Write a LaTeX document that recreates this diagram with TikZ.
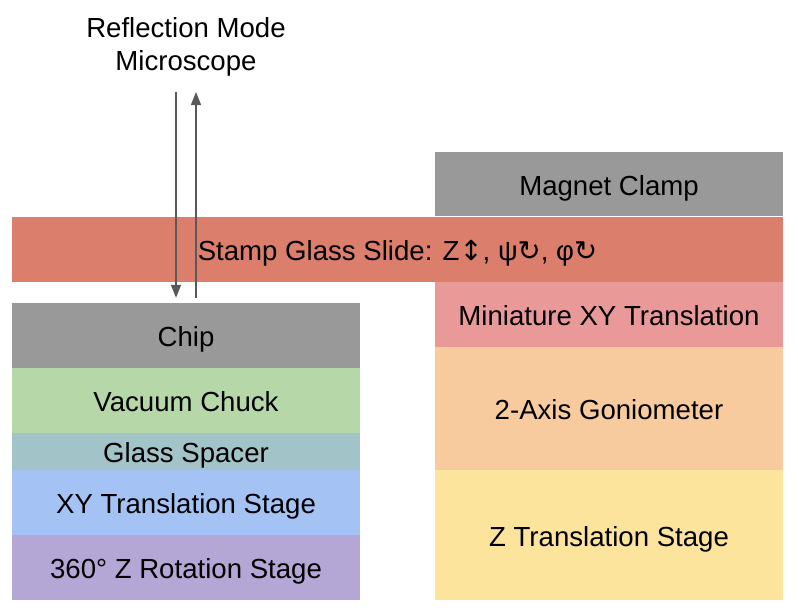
\documentclass[tikz,border=0pt]{standalone}
\usepackage{fontspec}
\setmainfont{Liberation Sans}
\newfontfamily\symfont{DejaVu Sans}
\usetikzlibrary{arrows.meta}

\definecolor{clampGray}{HTML}{999999}
\definecolor{stampRed}{HTML}{DB7E6B}
\definecolor{chuckGreen}{HTML}{B6D7A8}
\definecolor{spacerTeal}{HTML}{A2C4C9}
\definecolor{xyBlue}{HTML}{A4C2F4}
\definecolor{rotPurple}{HTML}{B4A7D6}
\definecolor{miniPink}{HTML}{EA9999}
\definecolor{gonioOrange}{HTML}{F8CB9F}
\definecolor{zYellow}{HTML}{FCE49C}
\definecolor{rayGray}{HTML}{595959}

\begin{document}
\begin{tikzpicture}[x=1pt, y=-1pt, font=\fontsize{27.6}{33}\selectfont]
  % Define styles
  \tikzstyle{layer} = [rectangle, inner sep=0pt, minimum width=348pt, text centered, text height=22pt, text depth=0pt]
  \tikzstyle{ray} = [draw=rayGray, line width=1.3pt, -{Triangle[length=13pt,width=10pt]}]

  \useasboundingbox (0,0) rectangle (798,614);

  % Microscope label
  \node[align=center] (micro) at (186,47) {Reflection Mode\\Microscope};
  \coordinate (mictop) at (186,92);

  % Chip side stack
  \node[layer, fill=clampGray, minimum height=65pt] (chip) at (186,335.5) {Chip};
  \node[layer, fill=chuckGreen, minimum height=65pt] (chuck) at (186,400.5) {Vacuum Chuck};
  \node[layer, fill=spacerTeal, minimum height=37pt] (spacer) at (186,451.5) {Glass Spacer};
  \node[layer, fill=xyBlue, minimum height=65pt] (xystage) at (186,502.5) {XY Translation Stage};
  \node[layer, fill=rotPurple, minimum height=65pt] (rotstage) at (186,567.5) {360° Z Rotation Stage};

  % Stamp side stack
  \node[layer, fill=clampGray, minimum height=64pt] (clamp) at (609,184) {Magnet Clamp};
  \node[layer, fill=miniPink, minimum height=65pt] (minixy) at (609,314.5) {Miniature XY Translation};
  \node[layer, fill=gonioOrange, minimum height=123pt] (gonio) at (609,408.5) {2-Axis Goniometer};
  \node[layer, fill=zYellow, minimum height=130pt] (zstage) at (609,535) {Z Translation Stage};

  % Stamp glass slide
  \node[layer, fill=stampRed, minimum width=771pt, minimum height=65pt] (stamp) at (397.5,249.5)
    {Stamp Glass Slide: Z{\symfont ↕}, ψ{\symfont ↻}, φ{\symfont ↻}};

  % Light path
  \draw[ray] ([xshift=-10pt]mictop) -- ([xshift=-10pt,yshift=5pt]chip.north);
  \draw[ray] ([xshift=10pt,yshift=5pt]chip.north) -- ([xshift=10pt]mictop);
\end{tikzpicture}
\end{document}
